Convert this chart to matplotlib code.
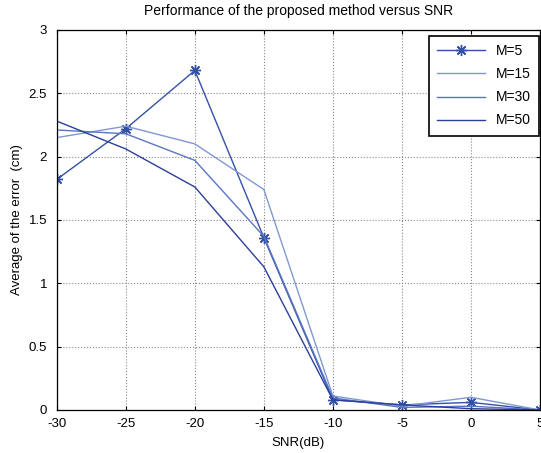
import matplotlib
matplotlib.use("Agg")
import matplotlib.pyplot as plt

plt.rcParams["font.family"] = ["Liberation Sans", "DejaVu Sans"]
plt.rcParams["axes.unicode_minus"] = False

snr = [-30, -25, -20, -15, -10, -5, 0, 5]
err_m5 = [1.82, 2.22, 2.68, 1.36, 0.08, 0.04, 0.06, 0.0]
err_m15 = [2.15, 2.24, 2.10, 1.74, 0.11, 0.03, 0.10, 0.0]
err_m30 = [2.21, 2.18, 1.97, 1.37, 0.095, 0.02, 0.03, 0.0]
err_m50 = [2.28, 2.06, 1.76, 1.13, 0.08, 0.04, 0.01, 0.0]

fig = plt.figure(figsize=(5.41, 4.53), dpi=100)
ax = fig.add_axes([0.105, 0.095, 0.893, 0.839])

ax.plot(snr, err_m5, color="#3451a8", lw=1.0, marker=(8, 2, 0), ms=8,
        markeredgecolor="#3451a8", mew=1.0, label="M=5")
ax.plot(snr, err_m15, color="#8098d2", lw=1.0, label="M=15")
ax.plot(snr, err_m30, color="#5a75c2", lw=1.0, label="M=30")
ax.plot(snr, err_m50, color="#2b3f98", lw=1.0, label="M=50")

ax.set_xlim(-30, 5)
ax.set_ylim(0, 3)
ax.set_xticks(snr)
ax.set_yticks([0, 0.5, 1, 1.5, 2, 2.5, 3])
ax.set_yticklabels(["0", "0.5", "1", "1.5", "2", "2.5", "3"])
ax.grid(True, color="#888888", lw=0.8, ls=":")
ax.tick_params(direction="in", length=3, labelsize=9.5, top=True, right=True)
ax.tick_params(axis="x", pad=6)
ax.tick_params(axis="y", pad=7)
for s in ax.spines.values():
    s.set_linewidth(0.9)

ax.set_title("Performance of the proposed method versus SNR", fontsize=10, pad=11)
ax.set_xlabel("SNR(dB)", fontsize=9.5, labelpad=5)
ax.set_ylabel("Average of the error  (cm)", fontsize=9.5, labelpad=4)

leg = ax.legend(loc="upper right", bbox_to_anchor=(0.998, 0.984), fontsize=10,
                fancybox=False, framealpha=1, edgecolor="black", borderaxespad=0,
                handlelength=3.4, labelspacing=0.65, borderpad=0.6)
leg.get_frame().set_linewidth(1.2)

fig.savefig("out.png", dpi=100)
